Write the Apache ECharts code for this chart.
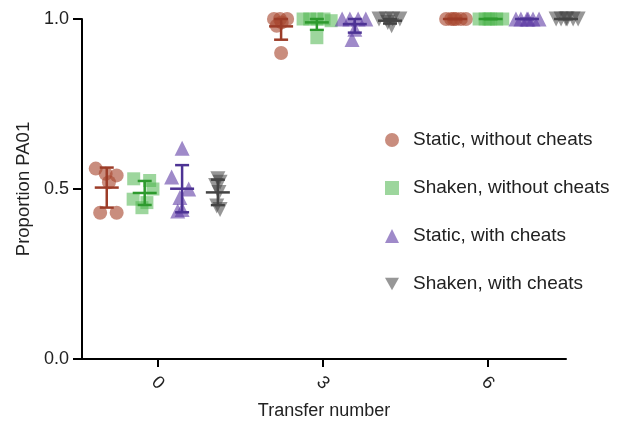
<!DOCTYPE html>
<html><head><meta charset="utf-8">
<script src="https://cdn.jsdelivr.net/npm/echarts@6/dist/echarts.min.js"></script>
<style>html,body{margin:0;padding:0;background:#fff}#c{width:622px;height:425px}</style>
</head><body><div id="c"></div>
<script>
// Tick labels / categories
const transferTicks = [0, 3, 6];
const seriesNames = ['Static, without cheats','Shaken, without cheats','Static, with cheats','Shaken, with cheats'];
const yTicks = [0, 0.5, 1.0];

// Cluster centres (x, data units) for each transfer: 0, 3, 6
const staticNoCenter = [-0.93, 2.24, 5.40];
const shakenNoCenter = [-0.24, 2.89, 6.05];
const staticWithCenter = [0.44, 3.58, 6.71];
const shakenWithCenter = [1.09, 4.22, 7.42];

// Points: 6 replicates per transfer (transfer 0, then 3, then 6)
const staticNoX = [-1.13,-0.95,-0.75,-0.89,-1.05,-0.75,  2.11,2.22,2.35,2.25,2.16,2.24,  5.24,5.33,5.42,5.51,5.60,5.38];
const staticNoY = [0.56,0.545,0.54,0.52,0.43,0.43,        1.0,1.0,1.0,0.99,0.98,0.90,   1,1,1,1,1,1];
const shakenNoX = [-0.44,-0.15,-0.09,-0.45,-0.29,-0.20,   2.64,2.76,2.89,3.02,3.15,2.89,  5.84,5.95,6.05,6.16,6.27,6.02];
const shakenNoY = [0.53,0.525,0.50,0.47,0.445,0.46,       1.0,1.0,1.0,1.0,0.995,0.945,  1,1,1,1,1,1];
const staticWithX = [0.44,0.25,0.56,0.40,0.44,0.36,       3.35,3.49,3.64,3.78,3.58,3.53,  6.51,6.60,6.71,6.82,6.93,6.73];
const staticWithY = [0.62,0.535,0.50,0.475,0.44,0.435,    1.0,1.0,1.0,1.0,0.97,0.94,    1,1,1,1,1,1];
const shakenWithX = [1.09,1.13,1.05,1.11,1.07,1.13,       4.02,4.15,4.27,4.40,4.18,4.25,  7.24,7.33,7.44,7.55,7.64,7.42];
const shakenWithY = [0.53,0.52,0.51,0.49,0.45,0.44,       1.0,1.0,1.0,1.0,0.99,0.98,    1,1,1,1,1,1];

function pts(xs, ys){ return xs.map((x,i)=>[x, ys[i]]); }
function stats(centers, ys){
  return centers.map((c,k)=>{
    const v = ys.slice(k*6, k*6+6);
    const m = v.reduce((a,b)=>a+b,0)/v.length;
    const sd = Math.sqrt(v.reduce((a,b)=>a+(b-m)*(b-m),0)/(v.length-1));
    return [c, m, m-sd, Math.min(m+sd, 1.0)];
  });
}

const fills = ['rgba(168,72,48,0.78)','rgba(80,182,80,0.7)','rgba(95,60,165,0.75)','rgba(70,70,70,0.7)'];
const lines = ['#9c3c28','#2e9a2e','#4d3394','#444444'];
const symbols = ['circle','rect','triangle','triangle'];
const rotates = [0,0,0,180];
const sizes = [14,13,15,15];
const allPts = [pts(staticNoX,staticNoY), pts(shakenNoX,shakenNoY), pts(staticWithX,staticWithY), pts(shakenWithX,shakenWithY)];
const allStats = [stats(staticNoCenter,staticNoY), stats(shakenNoCenter,shakenNoY), stats(staticWithCenter,staticWithY), stats(shakenWithCenter,shakenWithY)];

const series = [];
seriesNames.forEach((n,i)=>{
  series.push({
    name:n, type:'scatter', data: allPts[i], symbol: symbols[i], symbolRotate: rotates[i],
    symbolSize: sizes[i], itemStyle:{color: fills[i]}, clip:false, z:2
  });
});
seriesNames.forEach((n,i)=>{
  series.push({
    name:n+' err', type:'custom', data: allStats[i], clip:false, z:3,
    renderItem:(params, api)=>{
      const c = api.coord([api.value(0), api.value(1)]);
      const lo = api.coord([api.value(0), api.value(2)]);
      const hi = api.coord([api.value(0), api.value(3)]);
      const st = {stroke: lines[i], lineWidth: 2.5};
      return {type:'group', children:[
        {type:'line', shape:{x1:c[0]-12,y1:c[1],x2:c[0]+12,y2:c[1]}, style:st},
        {type:'line', shape:{x1:c[0],y1:lo[1],x2:c[0],y2:hi[1]}, style:st},
        {type:'line', shape:{x1:c[0]-7,y1:lo[1],x2:c[0]+7,y2:lo[1]}, style:st},
        {type:'line', shape:{x1:c[0]-7,y1:hi[1],x2:c[0]+7,y2:hi[1]}, style:st}
      ]};
    }
  });
});

const FONT = 'Liberation Sans, Arial, Helvetica, sans-serif';
const chart = echarts.init(document.getElementById('c'), null, {renderer:'canvas'});
chart.setOption({
  animation:false,
  textStyle:{fontFamily:FONT},
  grid:{left:82, right:56, top:19, bottom:66, containLabel:false},
  legend:{
    orient:'vertical', left:380, top:125, itemWidth:14, itemHeight:14, itemGap:28,
    selectedMode:false,
    textStyle:{fontSize:19, lineHeight:20, color:'#222', fontFamily:FONT, padding:[0,0,0,9]},
    data: seriesNames.map((n,i)=>({name:n, icon: i===3 ? 'path://M0,0 L10,0 L5,9 Z' : symbols[i]}))
  },
  xAxis:{
    type:'value', min:-1.38, max:7.42,
    name:'Transfer number', nameLocation:'middle', nameGap:43,
    nameTextStyle:{fontSize:18, color:'#222', fontFamily:FONT},
    axisLine:{show:true, onZero:false, lineStyle:{color:'#000', width:2}},
    axisTick:{show:true, length:8, lineStyle:{color:'#000', width:2}, customValues: transferTicks},
    axisLabel:{show:true, fontSize:18, color:'#222', rotate:-45, align:'center', verticalAlign:'middle', margin:24, customValues: transferTicks, fontFamily:FONT},
    splitLine:{show:false}
  },
  yAxis:{
    type:'value', min:0, max:1, interval:0.5,
    name:'Proportion PA01', nameLocation:'middle', nameGap:48,
    nameTextStyle:{fontSize:18.5, color:'#222', fontFamily:FONT},
    axisLine:{show:true, onZero:false, lineStyle:{color:'#000', width:2}},
    axisTick:{show:true, length:9, lineStyle:{color:'#000', width:2}},
    axisLabel:{fontSize:18, color:'#222', margin:13, fontFamily:FONT, formatter:v=>v.toFixed(1)},
    splitLine:{show:false}
  },
  series: series
});
</script></body></html>
